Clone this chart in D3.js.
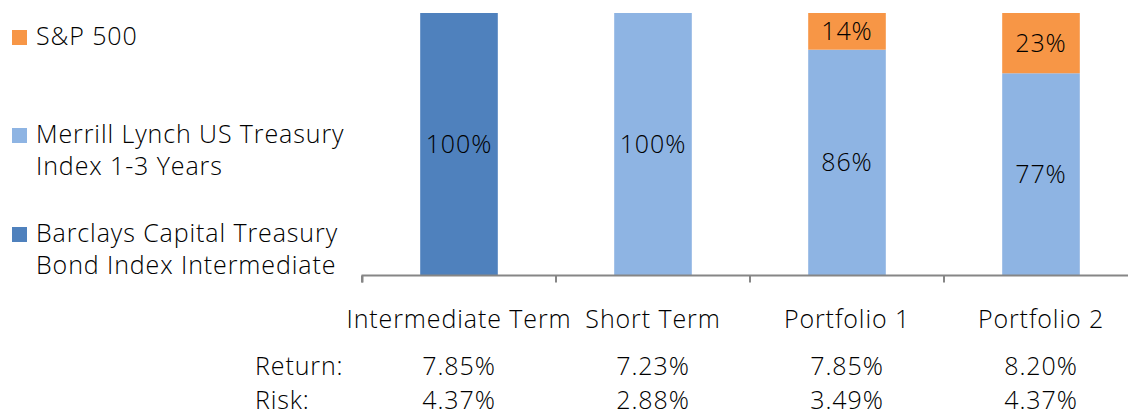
<!DOCTYPE html>
<html>
<head>
<meta charset="utf-8">
<script src="https://cdn.jsdelivr.net/npm/d3@7"></script>
<style>
  body { margin: 0; background: #fff; }
  text { font-family: "Open Sans", "Noto Sans", sans-serif; font-weight: 300; fill: #000; letter-spacing: 0.9px; }
</style>
</head>
<body>
<script>
'use strict';

// chart data
const categories = ["Intermediate Term", "Short Term", "Portfolio 1", "Portfolio 2"];
const seriesNames = ["Barclays Capital Treasury Bond Index Intermediate",
                     "Merrill Lynch US Treasury Index 1-3 Years",
                     "S&P 500"];
const barclays = [100, 0, 0, 0];
const merrill = [0, 100, 86, 77];
const sp500 = [0, 0, 14, 23];
const returns = ["7.85%", "7.23%", "7.85%", "8.20%"];
const risks = ["4.37%", "2.88%", "3.49%", "4.37%"];
const legendLines = [["S&P 500"],
                     ["Merrill Lynch US Treasury", "Index 1-3 Years"],
                     ["Barclays Capital Treasury", "Bond Index Intermediate"]];

const colors = ["#4F81BD", "#8EB4E3", "#F79646"];
const fontSize = '25px';

const svg = d3.select('body').append('svg')
  .attr('width', 1128)
  .attr('height', 412);

// build table for stack
const table = categories.map((c, i) => ({
  cat: c, b: barclays[i], m: merrill[i], s: sp500[i]
}));
const keys = ["b", "m", "s"];
const stacked = d3.stack().keys(keys)(table);

// scales
const xScale = d3.scaleBand()
  .domain(categories)
  .range([362, 1138])
  .paddingInner(0.6)
  .paddingOuter(0.3);
const band = d3.scaleBand().domain(categories).range([362, 1138]);

const yScale = d3.scaleLinear()
  .domain([0, 100])
  .range([275, 13]);

// bars
stacked.forEach((layer, k) => {
  svg.append('g').selectAll('rect')
    .data(layer)
    .enter()
    .append('rect')
      .attr('x', d => xScale(d.data.cat))
      .attr('width', xScale.bandwidth())
      .attr('y', d => yScale(d[1]))
      .attr('height', d => yScale(d[0]) - yScale(d[1]))
      .attr('fill', colors[k]);

  // value labels
  svg.append('g').selectAll('text')
    .data(layer.filter(d => d[1] - d[0] > 0))
    .enter()
    .append('text')
      .attr('x', d => xScale(d.data.cat) + xScale.bandwidth() / 2)
      .attr('y', d => (yScale(d[0]) + yScale(d[1])) / 2)
      .attr('dy', '0.36em')
      .attr('text-anchor', 'middle')
      .style('font-size', fontSize)
      .text(d => (d[1] - d[0]) + '%');
});

// x axis
const xAxis = d3.axisBottom(band).tickSize(7).tickFormat('');
const axisG = svg.append('g')
  .attr('transform', 'translate(0, 275.5)')
  .call(xAxis);
axisG.select('.domain').attr('stroke', '#868686').attr('stroke-width', 2)
  .attr('d', 'M362.5,7V0H1138');
axisG.selectAll('.tick line').attr('stroke', '#868686').attr('stroke-width', 2)
  .attr('transform', d => 'translate(' + (-band.bandwidth() / 2) + ',0)');

// category labels
svg.append('g').selectAll('text')
  .data(categories)
  .enter()
  .append('text')
    .attr('x', d => band(d) + band.bandwidth() / 2)
    .attr('y', 328)
    .attr('text-anchor', 'middle')
    .style('font-size', fontSize)
    .text(d => d);

// return / risk rows
const rows = [["Return:", returns, 375], ["Risk:", risks, 409]];
rows.forEach(r => {
  svg.append('text')
    .attr('x', 255)
    .attr('y', r[2])
    .style('font-size', fontSize)
    .text(r[0]);
  svg.append('g').selectAll('text')
    .data(r[1])
    .enter()
    .append('text')
      .attr('x', (d, i) => band(categories[i]) + band.bandwidth() / 2)
      .attr('y', r[2])
      .attr('text-anchor', 'middle')
      .style('font-size', fontSize)
      .text(d => d);
});

// legend
const legendColors = [colors[2], colors[1], colors[0]];
const legendTop = [45, 143, 242];
legendLines.forEach((lines, i) => {
  svg.append('rect')
    .attr('x', 12)
    .attr('y', legendTop[i] - 15)
    .attr('width', 15)
    .attr('height', 15)
    .attr('fill', legendColors[i]);
  lines.forEach((ln, j) => {
    svg.append('text')
      .attr('x', 36)
      .attr('y', legendTop[i] + j * 32)
      .style('font-size', fontSize)
      .text(ln);
  });
});
</script>
</body>
</html>
